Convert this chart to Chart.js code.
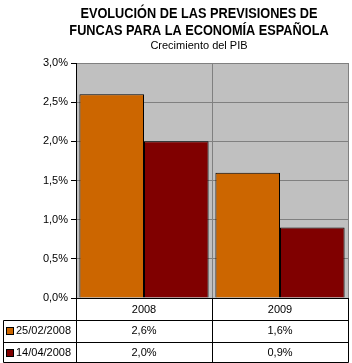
<!DOCTYPE html>
<html>
<head>
<meta charset="utf-8">
<script src="https://cdn.jsdelivr.net/npm/chart.js@4"></script>
<style>
  html, body { margin: 0; padding: 0; background: #fff; }
  canvas { display: block; }
</style>
</head>
<body>
<canvas id="chart" width="352" height="363"></canvas>
<script>
// datos
const titleLines = ["EVOLUCIÓN DE LAS PREVISIONES DE", "FUNCAS PARA LA ECONOMÍA ESPAÑOLA"];
const subtitle = "Crecimiento del PIB";
const years = ["2008", "2009"];
const seriesNames = ["25/02/2008", "14/04/2008"];
const feb = [2.6, 1.6];
const abr = [2.0, 0.9];
const colors = ["#CC6600", "#800000"];
const yTicks = [0, 0.5, 1, 1.5, 2, 2.5, 3];

const fmt = v => v.toFixed(1).replace(".", ",") + "%";
const FONT = "Arial, 'Liberation Sans', sans-serif";

// fondo gris del area del grafico
const plotBg = {
  id: "plotBg",
  beforeDraw(chart) {
    const { ctx, chartArea: a } = chart;
    ctx.save();
    ctx.fillStyle = "#C0C0C0";
    ctx.fillRect(a.left, a.top, a.right - a.left, a.bottom - a.top);
    ctx.restore();
  }
};

// titulo (centrado como en el original, un poco estrecho)
const titles = {
  id: "titles",
  afterDraw(chart) {
    const { ctx } = chart;
    const cx = 199;
    ctx.save();
    ctx.fillStyle = "#000";
    ctx.textAlign = "center";
    ctx.textBaseline = "alphabetic";
    ctx.font = "bold 14px " + FONT;
    titleLines.forEach((t, i) => {
      ctx.save();
      ctx.translate(cx, 17.5 + i * 17);
      ctx.scale(0.91, 1);
      ctx.fillText(t, 0, 0);
      ctx.restore();
    });
    ctx.font = "11px " + FONT;
    ctx.fillText(subtitle, cx, 49);
    ctx.restore();
  }
};

// tabla de datos bajo el grafico
const dataTable = {
  id: "dataTable",
  afterDraw(chart) {
    const { ctx, chartArea: a } = chart;
    const x = chart.scales.x;
    const rowH = 22;
    const y0 = a.bottom;
    const left = 3;
    const bounds = [a.left];
    years.forEach((_, i) => bounds.push(a.left + (a.right - a.left) * (i + 1) / years.length));
    const rows = [feb, abr];

    ctx.save();
    ctx.strokeStyle = "#000";
    ctx.lineWidth = 1;
    ctx.font = "11px " + FONT;
    ctx.textBaseline = "middle";
    ctx.fillStyle = "#000";

    const line = (x1, y1, x2, y2) => {
      ctx.beginPath();
      ctx.moveTo(Math.round(x1) + 0.5, Math.round(y1) + 0.5);
      ctx.lineTo(Math.round(x2) + 0.5, Math.round(y2) + 0.5);
      ctx.stroke();
    };

    const bottom = y0 + rowH * 3 - 2;
    bounds.forEach(b => line(b, y0, b, bottom));
    line(left, y0 + rowH, left, bottom);
    line(left, y0 + rowH, a.right, y0 + rowH);
    line(left, y0 + rowH * 2, a.right, y0 + rowH * 2);
    line(left, bottom, a.right, bottom);

    ctx.textAlign = "center";
    years.forEach((yr, i) => {
      const cx = x.getPixelForValue(i);
      ctx.fillText(yr, cx, y0 + rowH / 2 + 1);
      rows.forEach((r, j) => {
        ctx.fillText(fmt(r[i]), cx, y0 + rowH * (j + 1) + rowH / 2);
      });
    });

    ctx.textAlign = "left";
    seriesNames.forEach((n, j) => {
      const cy = y0 + rowH * (j + 1) + rowH / 2;
      ctx.fillStyle = colors[j];
      ctx.fillRect(left + 3, cy - 4, 7, 7);
      ctx.strokeRect(left + 3.5, cy - 3.5, 7, 7);
      ctx.fillStyle = "#000";
      ctx.fillText(n, left + 13, cy);
    });
    ctx.restore();
  }
};

new Chart(document.getElementById("chart"), {
  type: "bar",
  data: {
    labels: years,
    datasets: [
      { label: seriesNames[0], data: feb, backgroundColor: colors[0], borderColor: "#000", borderWidth: 1 },
      { label: seriesNames[1], data: abr, backgroundColor: colors[1], borderColor: "#000", borderWidth: 1 }
    ]
  },
  options: {
    responsive: false,
    animation: false,
    devicePixelRatio: 1,
    layout: { padding: { left: 0, right: 4, top: 63, bottom: 0 } },
    datasets: { bar: { barPercentage: 1, categoryPercentage: 0.95 } },
    plugins: {
      legend: { display: false },
      tooltip: { enabled: false },
      title: { display: false }
    },
    scales: {
      x: {
        ticks: { display: false },
        grid: { color: "#808080", offset: true, drawTicks: false },
        border: { color: "#000" },
        afterFit(s) { s.height = 65; }
      },
      y: {
        min: 0,
        max: 3,
        afterBuildTicks(s) { s.ticks = yTicks.map(v => ({ value: v })); },
        ticks: { color: "#000", font: { family: FONT, size: 11 }, padding: 3, callback: v => fmt(v) },
        grid: { color: "#808080", tickLength: 5, tickColor: "#000" },
        border: { color: "#000" },
        afterFit(s) { s.width = 76; }
      }
    }
  },
  plugins: [plotBg, titles, dataTable]
});
</script>
</body>
</html>
